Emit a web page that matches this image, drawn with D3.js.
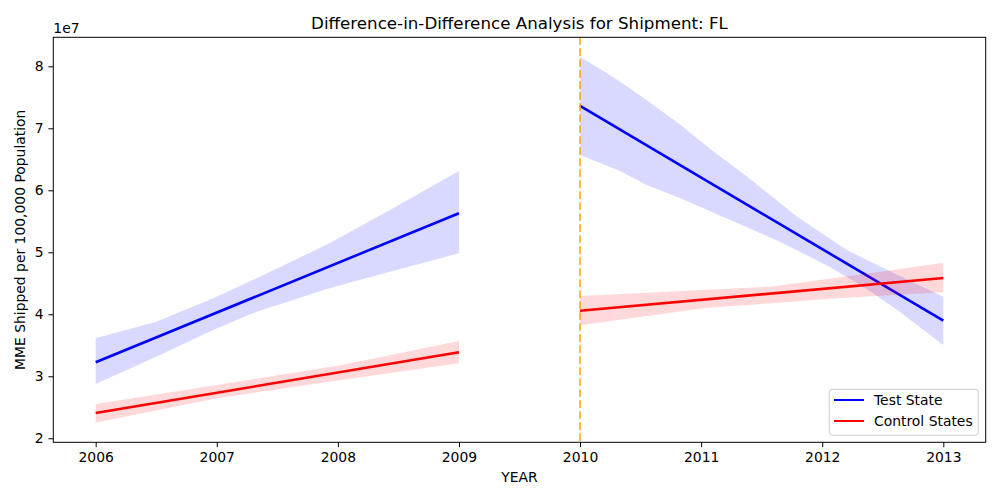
<!DOCTYPE html>
<html>
<head>
<meta charset="utf-8">
<script src="https://cdn.jsdelivr.net/npm/d3@7"></script>
<style>
  body { margin: 0; background: #fff; }
  svg { display: block; }
  text { font-family: "DejaVu Sans", sans-serif; fill: #000; }
</style>
</head>
<body>
<svg id="chart" width="1000" height="500"></svg>
<script>
// ---- Data (values in units of 1e7) ----
const titleText = "Difference-in-Difference Analysis for Shipment: FL";
const xTicks = [2006, 2007, 2008, 2009, 2010, 2011, 2012, 2013];
const yTicks = [2, 3, 4, 5, 6, 7, 8];
const policyYear = 2010;

// Regression line endpoints
const testPreYears = [2006, 2009];
const testPreLine = [3.226, 5.630];
const controlPreYears = [2006, 2009];
const controlPreLine = [2.408, 3.387];
const testPostYears = [2010, 2013];
const testPostLine = [7.360, 3.897];
const controlPostYears = [2010, 2013];
const controlPostLine = [4.058, 4.585];

// Confidence band edges
const testPreUpperYears = [2006, 2006.5, 2006.97, 2007.33, 2007.93, 2008.43, 2009];
const testPreUpper = [3.613, 3.881, 4.258, 4.581, 5.145, 5.682, 6.311];
const testPreLowerYears = [2006, 2006.5, 2006.97, 2007.33, 2007.93, 2008.43, 2009];
const testPreLower = [2.876, 3.316, 3.747, 4.042, 4.419, 4.687, 4.984];

const controlPreUpperYears = [2006, 2007, 2008, 2009];
const controlPreUpper = [2.553, 2.860, 3.170, 3.569];
const controlPreLowerYears = [2006, 2007, 2008, 2009];
const controlPreLower = [2.252, 2.645, 2.930, 3.210];

const testPostUpperYears = [2010, 2010.27, 2010.55, 2010.83, 2011.1, 2011.38, 2011.79, 2012.2, 2012.48, 2013];
const testPostUpper = [8.155, 7.832, 7.456, 7.053, 6.630, 6.220, 5.576, 5.039, 4.770, 4.284];
const testPostLowerYears = [2010, 2010.33, 2010.55, 2010.83, 2011.24, 2011.65, 2012.06, 2012.34, 2012.62, 2013];
const testPostLower = [6.569, 6.310, 6.085, 5.871, 5.521, 5.171, 4.768, 4.445, 4.069, 3.505];

const controlPostUpperYears = [2010, 2011.57, 2012.39, 2013];
const controlPostUpper = [4.295, 4.445, 4.661, 4.832];
const controlPostLowerYears = [2010, 2011.02, 2012.12, 2013];
const controlPostLower = [3.823, 4.097, 4.258, 4.355];

const legendLabels = ["Test State", "Control States"];
const legendColors = ["#0000ff", "#ff0000"];

// ---- Layout ----
const svg = d3.select("#chart");
const axL = 53.3, axR = 985.7, axT = 37.3, axB = 442.3;

const x = d3.scaleLinear().domain([2005.65, 2013.35]).range([axL, axR]);
const y = d3.scaleLinear().domain([1.935, 8.468]).range([axB, axT]);

function bandPoints(uy, uv, ly, lv) {
  const up = uy.map((d, i) => [d, uv[i]]);
  const lo = ly.map((d, i) => [d, lv[i]]).reverse();
  return up.concat(lo);
}
const polyLine = d3.line().x(d => x(d[0])).y(d => y(d[1]));

const clipId = "clipAxes";
svg.append("defs").append("clipPath").attr("id", clipId)
  .append("rect").attr("x", axL).attr("y", axT).attr("width", axR - axL).attr("height", axB - axT);
const plot = svg.append("g").attr("clip-path", `url(#${clipId})`);

function drawBand(pts, color) {
  plot.append("path")
    .attr("d", polyLine(pts) + "Z")
    .attr("fill", color)
    .attr("fill-opacity", 0.15)
    .attr("stroke", "none");
}
function drawLine(years, vals, color) {
  plot.append("path")
    .attr("d", polyLine(years.map((d, i) => [d, vals[i]])))
    .attr("fill", "none")
    .attr("stroke", color)
    .attr("stroke-width", 2.6);
}

drawBand(bandPoints(testPreUpperYears, testPreUpper, testPreLowerYears, testPreLower), "#0000ff");
drawLine(testPreYears, testPreLine, "#0000ff");
drawBand(bandPoints(controlPreUpperYears, controlPreUpper, controlPreLowerYears, controlPreLower), "#ff0000");
drawLine(controlPreYears, controlPreLine, "#ff0000");
drawBand(bandPoints(testPostUpperYears, testPostUpper, testPostLowerYears, testPostLower), "#0000ff");
drawLine(testPostYears, testPostLine, "#0000ff");
drawBand(bandPoints(controlPostUpperYears, controlPostUpper, controlPostLowerYears, controlPostLower), "#ff0000");
drawLine(controlPostYears, controlPostLine, "#ff0000");

// Policy line
plot.append("line")
  .attr("x1", x(policyYear)).attr("x2", x(policyYear))
  .attr("y1", axT).attr("y2", axB)
  .attr("stroke", "#ffa500")
  .attr("stroke-width", 1.5)
  .attr("stroke-dasharray", "7.7,3.3");

// Axes
const xAxis = d3.axisBottom(x).tickValues(xTicks).tickFormat(d3.format("d")).tickSize(4.9).tickPadding(4.9);
const yAxis = d3.axisLeft(y).tickValues(yTicks).tickFormat(d3.format("d")).tickSize(4.9).tickPadding(4.9);

const gx = svg.append("g").attr("transform", `translate(0,${axB})`).call(xAxis);
const gy = svg.append("g").attr("transform", `translate(${axL},0)`).call(yAxis);
[gx, gy].forEach(g => {
  g.select(".domain").remove();
  g.selectAll(".tick line").attr("stroke", "#000").attr("stroke-width", 1);
  g.selectAll(".tick text").attr("font-size", "13.9px").attr("font-family", "DejaVu Sans").attr("fill", "#000");
});

// Frame
svg.append("rect")
  .attr("x", axL).attr("y", axT).attr("width", axR - axL).attr("height", axB - axT)
  .attr("fill", "none").attr("stroke", "#000").attr("stroke-width", 1);

// Offset text
svg.append("text").attr("x", axL).attr("y", 33).attr("font-size", "13.9px").text("1e7");

// Title
svg.append("text").attr("x", (axL + axR) / 2).attr("y", 29)
  .attr("text-anchor", "middle").attr("font-size", "16.7px").text(titleText);

// Axis labels
svg.append("text").attr("x", (axL + axR) / 2).attr("y", 482)
  .attr("text-anchor", "middle").attr("font-size", "13.9px").text("YEAR");
svg.append("text")
  .attr("transform", `translate(25,${(axT + axB) / 2}) rotate(-90)`)
  .attr("text-anchor", "middle").attr("font-size", "13.9px")
  .text("MME Shipped per 100,000 Population");

// Legend
const lg = svg.append("g");
lg.append("rect").attr("x", 829.3).attr("y", 389.3).attr("width", 149).attr("height", 46)
  .attr("rx", 3).attr("fill", "#fff").attr("fill-opacity", 0.8)
  .attr("stroke", "#cccccc").attr("stroke-width", 1);
legendLabels.forEach((lab, i) => {
  const yy = 400 + i * 21;
  lg.append("line").attr("x1", 834).attr("x2", 864).attr("y1", yy).attr("y2", yy)
    .attr("stroke", legendColors[i]).attr("stroke-width", 2);
  lg.append("text").attr("x", 874).attr("y", yy + 5).attr("font-size", "13.9px").text(lab);
});
</script>
</body>
</html>
